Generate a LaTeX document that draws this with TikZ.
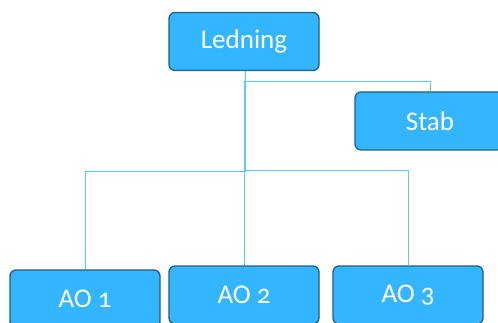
\documentclass[tikz,border=0pt]{standalone}
\usepackage{fontspec}
\setmainfont[Numbers=OldStyle]{Carlito}
\usetikzlibrary{positioning}
\definecolor{boxfill}{HTML}{33B5FF}
\definecolor{boxline}{HTML}{1F5F80}
\definecolor{wire}{HTML}{5CC6FF}
\tikzset{
    unit/.style={draw=boxline, line width=1.3pt, fill=boxfill, rounded corners=6pt,
        minimum width=150pt, minimum height=58pt, text=white, font=\fontsize{27}{29}\selectfont},
    link/.style={draw=wire, line width=0.9pt}
}
\begin{document}
\begin{tikzpicture}[x=1pt,y=-1pt]
    \useasboundingbox (0,0) rectangle (498,323);
    \clip (0,0) rectangle (498,323);
    %% top
    \node[unit] (led) at (244,41.5) {Ledning};
    \node[unit] (stab) at (430,121) {Stab};
    %% bottom row
    \node[unit] (ao1) at (85,299) {AO 1};
    \node[unit] (ao2) at (244,295) {AO 2};
    \node[unit] (ao3) at (408,295) {AO 3};
    \coordinate (split) at (245,81);
    \coordinate (hub) at (245,170);
    % connectors
    \draw[link] (led.south -| split) -- (split) -| (stab.north);
    \draw[link, line width=1.4pt] (split) -- (hub);
    \draw[link] (hub) -- ++(0,1) -| (ao1.north);
    \draw[link] (hub) -| (ao2.north);
    \draw[link] (hub) -| (ao3.north);
\end{tikzpicture}
\end{document}
